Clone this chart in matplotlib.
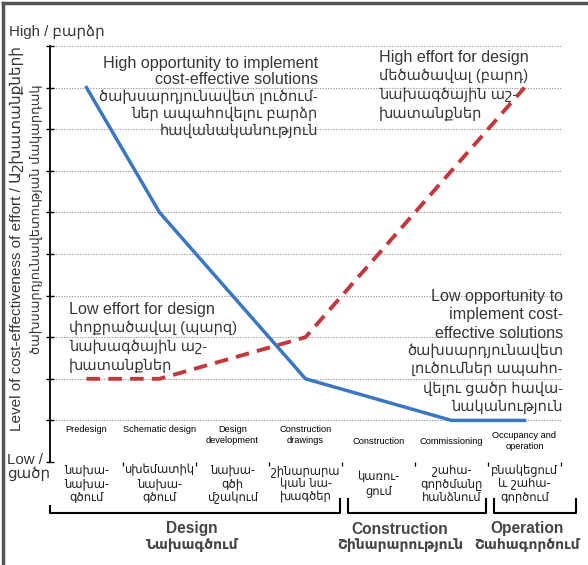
import matplotlib
matplotlib.use("Agg")
import matplotlib.pyplot as plt
from matplotlib.lines import Line2D

# ---------------- data ----------------
categories_en = ["Predesign", "Schematic design", "Design\ndevelopment", "Construction\ndrawings",
                 "Construction", "Commissioning", "Occupancy and\noperation"]
categories_hy = ["նախա-\nնախա-\nգծում", "սխեմատիկ\nնախա-\nգծում", "նախա-\nգծի\nմշակում",
                 "շինարարա\nկան նա-\nխագծեր", "կառու-\nցում", "շահա-\nգործմանը\nհանձնում",
                 "բնակեցում\nև շահա-\nգործում"]
# opportunity (blue) : category index -> level
blue_idx = [0, 1, 3, 5, 6]
blue_vals = [9, 6, 2, 1, 1]
# effort (red dashed)
red_idx = [0, 1, 3, 6]
red_vals = [2, 2, 3, 9]
group_en = ["Design", "Construction", "Operation"]
group_hy = ["Նախագծում", "Շինարարություն", "Շահագործում"]
group_spans = [(0, 4), (4, 6), (6, 7)]

W, H = 588, 565
FONT = ["Liberation Sans", "DejaVu Sans"]
TXT = "#363636"

fig = plt.figure(figsize=(W / 100, H / 100), dpi=100)
fig.patch.set_facecolor("white")

def fx(px):
    return px / W

def fy(py):
    return 1 - py / H

def is_hy(s):
    return any(0x530 <= ord(c) <= 0x58F for c in s)

def text_lines(x, ys, lines, ha, en_size=11.6, hy_size=10.5, **kw):
    for yy, ln in zip(ys, lines):
        size = hy_size if is_hy(ln) else en_size
        fig.text(fx(x), fy(yy + 0.36 * size * 100 / 72), ln, ha=ha, va="baseline",
                 fontsize=size, family=FONT, color=kw.get("color", TXT),
                 fontweight=kw.get("weight", "normal"))

ax = fig.add_axes([fx(50), fy(462), (561 - 50) / W, (462 - 46) / H])
ax.set_xlim(0, 7)
ax.set_ylim(0, 10)
for s in ["top", "right", "bottom"]:
    ax.spines[s].set_visible(False)
ax.spines["left"].set_linewidth(1.3)

ax.set_yticks(range(0, 11))
ax.set_yticklabels([])
ax.tick_params(axis="y", direction="inout", length=6, width=1.0)
ax.yaxis.grid(True, linestyle=(0, (1.2, 1.2)), color="#a0a0a0", linewidth=0.8)
ax.get_ygridlines()[0].set_visible(False)
ax.set_xticks(range(1, 8))
ax.set_xticklabels([])
ax.tick_params(axis="x", direction="out", length=3, width=0.9)

bx = [i + 0.5 for i in blue_idx]
rx = [i + 0.5 for i in red_idx]
ax.plot(bx, blue_vals, color="#3b77c0", lw=2.5, solid_joinstyle="round", zorder=4)
ax.plot(rx, red_vals, color="#c3383b", lw=2.8, dashes=(3.5, 2.1), zorder=3)

# English category labels
for i, lab in enumerate(categories_en):
    if i < 4:
        ax.text(i + 0.5, 0.88, lab, ha="center", va="top", fontsize=6.7,
                family=FONT, color="black", linespacing=1.3)
    else:
        ax.text(i + 0.5, 0.5, lab, ha="center", va="center", fontsize=6.7,
                family=FONT, color="black", linespacing=1.3)

# Armenian category labels
for i, lab in enumerate(categories_hy):
    ax.text(i + 0.5, -0.52, lab, ha="center", va="center", fontsize=8.3,
            family=["DejaVu Sans"], color="#1a1a1a", linespacing=1.05, clip_on=False)

# group brackets
for k, (a, b) in enumerate(group_spans):
    left = a + (0.0 if a == 0 else 0.08)
    right = b - 0.03 if b < 7 else b + 0.2
    top = -0.9 if a > 0 else -1.05
    ax.add_line(Line2D([left, left, right, right], [top, -1.22, -1.22, -0.88],
                       color="black", lw=1.5, clip_on=False))

group_x = [192, 400, 527]
for ge, gh, gx in zip(group_en, group_hy, group_x):
    fig.text(fx(gx), fy(529), ge, ha="center", va="center", fontsize=11.2,
             fontweight="bold", family=FONT, color="#454545")
    fig.text(fx(gx), fy(545), gh, ha="center", va="center", fontsize=10.0,
             fontweight="bold", family=FONT, color="#454545")

# annotations inside plot
text_lines(318, [62, 78, 96, 113, 130],
           ["High opportunity to implement", "cost-effective solutions",
            "ծախսարդյունավետ լուծում-", "ներ ապահովելու բարձր", "հավանականություն"], "right")
text_lines(379, [56, 75, 94, 113],
           ["High effort for design", "մեծածավալ (բարդ)", "նախագծային աշ-", "խատանքներ"], "left")
text_lines(69, [308, 327, 346, 365],
           ["Low effort for design", "փոքրածավալ (պարզ)", "նախագծային աշ-", "խատանքներ"], "left")
text_lines(563, [295, 313, 332, 350, 368, 388, 406],
           ["Low opportunity to", "implement cost-", "effective solutions", "ծախսարդյունավետ",
            "լուծումներ ապահո-", "վելու ցածր հավա-", "նականություն"], "right")

# axis end labels
fig.text(fx(9), fy(32), "High / բարձր", ha="left", va="center", fontsize=10.8,
         family=FONT, color=TXT)
fig.text(fx(7), fy(467), "Low /\nցածր", ha="left", va="center", fontsize=10.8,
         family=FONT, color=TXT, linespacing=1.0)

# y axis title (two lines)
fig.text(fx(17), fy(239), "Level of cost-effectiveness of effort / Աշխատանքների",
         rotation=90, ha="center", va="center", fontsize=11.0, family=FONT, color=TXT)
fig.text(fx(37), fy(219), "ծախսարդյունավետության մակարդակ",
         rotation=90, ha="center", va="center", fontsize=9.4, family=FONT, color=TXT)

# frame at top and left
fig.add_artist(Line2D([fx(3), fx(3)], [0, fy(3)], color="#555555", lw=2.5))
fig.add_artist(Line2D([fx(3), 1], [fy(3), fy(3)], color="#555555", lw=2.5))

fig.savefig("out.png", dpi=100)
